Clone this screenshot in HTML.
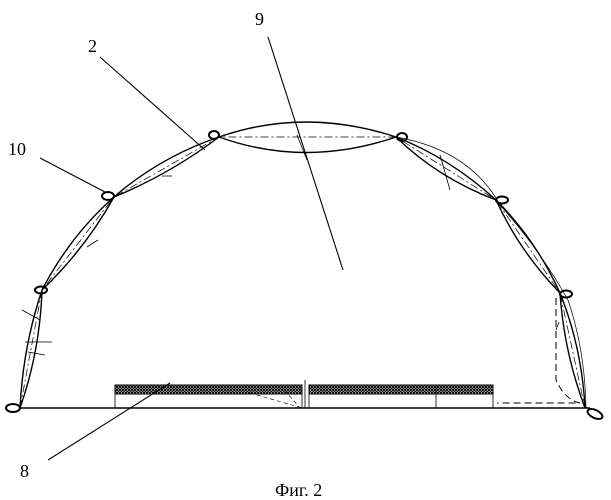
<!DOCTYPE html>
<html><head><meta charset="utf-8"><style>
html,body{margin:0;padding:0;background:#fff;}
svg{display:block;}
text{font-family:"Liberation Serif",serif;fill:#000;}
</style></head><body>
<svg width="611" height="500" viewBox="0 0 611 500" xmlns="http://www.w3.org/2000/svg">
<defs>
<pattern id="h" width="3" height="3" patternUnits="userSpaceOnUse">
<rect width="3" height="3" fill="#fff"/>
<path d="M0,0L3,3M3,0L0,3" stroke="#000" stroke-width="1"/>
</pattern>
</defs>
<g fill="none" stroke="#000">
<g stroke-width="1.4">
<path d="M20,408 Q40,351 42,290 Q23,347 20,408"/>
<path d="M42,290 Q85,249 114,197 Q70,236 42,290"/>
<path d="M114,197 Q170,174 219,137 Q160,157 114,197"/>
<path d="M219,137 Q305,168 396,137 Q305,107 219,137"/>
<path d="M396,137 Q438,178 496,200 Q450,158 396,137"/>
<path d="M496,200 Q520,252 560,293 Q536,240 496,200"/>
<path d="M560,293 Q564,352 585,408 Q582,348 560,293"/>
</g>
<path d="M396,137 Q470,150 500,205 Q540,250 568,300 Q585,350 586,408" stroke-width="0.7"/>
<g stroke-width="0.7" stroke-dasharray="8,3,2,3">
<path d="M20,408 L42,290 L114,197 L219,137 L396,137 L496,200 L560,293 L585,408"/>
</g>
<path d="M556,298 L556,380 Q565,400 580,403 L497,403" stroke-width="1" stroke-dasharray="7,4"/>
<g stroke-width="2">
<ellipse cx="13" cy="408" rx="7" ry="4"/>
<ellipse cx="41" cy="290" rx="6" ry="3.5"/>
<ellipse cx="108" cy="196" rx="6" ry="4"/>
<ellipse cx="214" cy="135" rx="5" ry="4"/>
<ellipse cx="402" cy="137" rx="5" ry="4"/>
<ellipse cx="502" cy="200" rx="6" ry="3.5"/>
<ellipse cx="566" cy="294" rx="6" ry="3.5"/>
<ellipse cx="595" cy="414" rx="8" ry="4" transform="rotate(25 595 414)"/>
</g>
<path d="M20,408 L590,408" stroke-width="1.4"/>
<rect x="115" y="385" width="187" height="9" fill="url(#h)" stroke-width="1"/>
<rect x="309" y="385" width="184" height="9" fill="url(#h)" stroke-width="1"/>
<path d="M115,394 L115,408 M302,394 L302,408 M309,394 L309,408 M493,394 L493,408 M436,385 L436,408 M305,380 L305,408" stroke-width="0.8"/>
<path d="M250,393 L302,408 M280,385 L300,408" stroke-width="0.6" stroke-dasharray="4,3"/>
<g stroke-width="0.8">
<path d="M22,310 L40,320 M25,342 L52,342 M28,352 L45,355 M440,155 L450,190 M297,135 L307,160 M87,247 L98,240 M162,176 L172,176 M556,330 L559,322"/>
</g>
<g stroke-width="1.1">
<path d="M100,57 L205,150"/>
<path d="M268,37 L343,270"/>
<path d="M40,158 L105,192"/>
<path d="M48,460 L170,383"/>
</g>
</g>
<text x="88" y="52" font-size="18">2</text>
<text x="255" y="25" font-size="18">9</text>
<text x="8" y="155" font-size="18">10</text>
<text x="20" y="477" font-size="18">8</text>
<text x="275" y="496" font-size="18">Фиг. 2</text>
</svg>
</body></html>
